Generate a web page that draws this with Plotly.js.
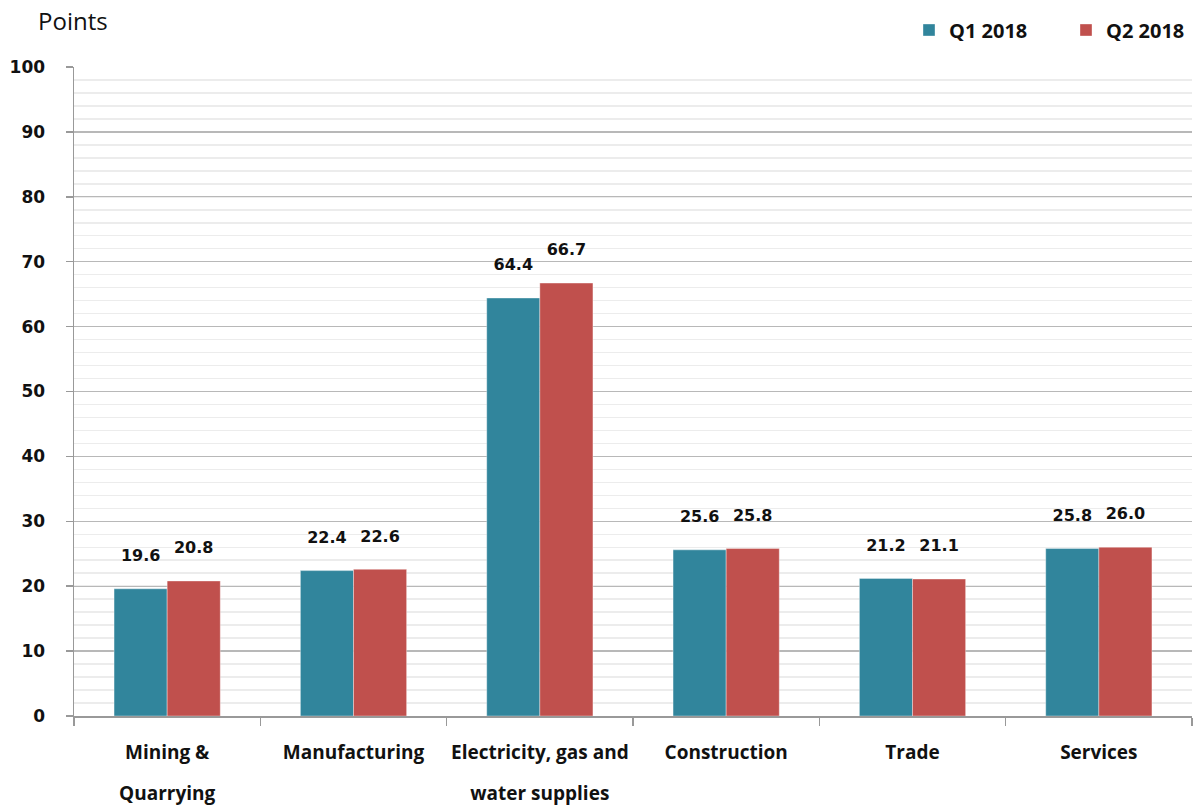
<!DOCTYPE html>
<html><head><meta charset="utf-8">
<script src="https://cdn.plot.ly/plotly-3.0.1.min.js"></script>
<style>html,body{margin:0;padding:0;background:#fff;}#chart{width:1194px;height:807px;}</style>
</head><body><div id="chart"></div>
<script>
var categories = ["Mining & Quarrying", "Manufacturing", "Electricity, gas and water supplies", "Construction", "Trade", "Services"];
var labelLine1 = ["Mining &", "Manufacturing", "Electricity, gas and", "Construction", "Trade", "Services"];
var labelLine2 = ["Quarrying", "", "water supplies", "", "", ""];
var q1Values = [19.6, 22.4, 64.4, 25.6, 21.2, 25.8];
var q2Values = [20.8, 22.6, 66.7, 25.8, 21.1, 26.0];
var seriesNames = ["Q1 2018", "Q2 2018"];
var yTicks = [0, 10, 20, 30, 40, 50, 60, 70, 80, 90, 100];

var numFont = {family: "DejaVu Sans", size: 16, color: "#111"};
var catFont = {family: "Open Sans", size: 19, color: "#111", weight: "bold"};
function barTrace(name, vals, color) {
  return {
    type: "bar", name: name, x: categories, y: vals,
    marker: {color: color, line: {color: "rgba(255,255,255,0.6)", width: 0.6}},
    text: vals.map(function(v){return v.toFixed(1);}),
    texttemplate: "<b>%{text}</b><br> ",
    textposition: "outside", cliponaxis: false,
    textfont: numFont, hoverinfo: "x+y"
  };
}
var data = [
  barTrace(seriesNames[0], q1Values, "#31859c"),
  barTrace(seriesNames[1], q2Values, "#c0504d"),
  {type: "scatter", mode: "markers", x: categories, y: q1Values, xaxis: "x2", yaxis: "y",
   marker: {opacity: 0, size: 1}, showlegend: false, hoverinfo: "skip"}
];

var layout = {
  width: 1194, height: 807,
  margin: {l: 74, r: 2, t: 67, b: 91},
  paper_bgcolor: "#fff", plot_bgcolor: "#fff",
  barmode: "group", bargap: 0.43, bargroupgap: 0,
  showlegend: true,
  legend: {orientation: "h", x: 909/1194, xanchor: "left", xref: "container",
           y: 1 - 30/807, yanchor: "middle", yref: "container", entrywidth: 112, entrywidthmode: "pixels",
           font: {family: "Open Sans", size: 20, color: "#111", weight: "bold"}, traceorder: "normal"},
  xaxis: {
    type: "category", categoryarray: categories, tickvals: categories, ticktext: labelLine1,
    showline: true, linecolor: "#999", linewidth: 1.5,
    ticks: "outside", tickson: "boundaries", ticklen: 8, tickcolor: "#999", tickwidth: 1.5,
    ticklabelstandoff: 19,
    tickfont: catFont, showgrid: false, zeroline: false, automargin: false, tickangle: 0
  },
  xaxis2: {
    type: "category", categoryarray: categories, tickvals: categories, ticktext: labelLine2,
    overlaying: "x", anchor: "y", side: "bottom", matches: "x",
    showline: false, ticks: "", ticklen: 0, ticklabelstandoff: 64,
    tickfont: catFont, showgrid: false, zeroline: false, automargin: false, tickangle: 0
  },
  yaxis: {
    range: [0, 100], tickvals: yTicks, showline: true, linecolor: "#999", linewidth: 1.5,
    ticks: "outside", ticklen: 7, tickcolor: "#999", tickwidth: 1.5,
    ticklabelstandoff: 17,
    tickfont: {family: "DejaVu Sans", size: 17, color: "#111", weight: "bold"},
    showgrid: true, gridcolor: "#b8b8b8", gridwidth: 1.2, zeroline: false,
    minor: {dtick: 2, showgrid: true, gridcolor: "#ececec", gridwidth: 1.5},
    automargin: false
  },
  annotations: [{
    text: "Points", xref: "paper", yref: "paper", x: -38/1118, y: 1, yshift: 47, xanchor: "left", yanchor: "middle",
    showarrow: false, font: {family: "Open Sans", size: 24, color: "#111"}
  }]
};
Plotly.newPlot("chart", data, layout, {displayModeBar: false, staticPlot: true});
</script></body></html>
